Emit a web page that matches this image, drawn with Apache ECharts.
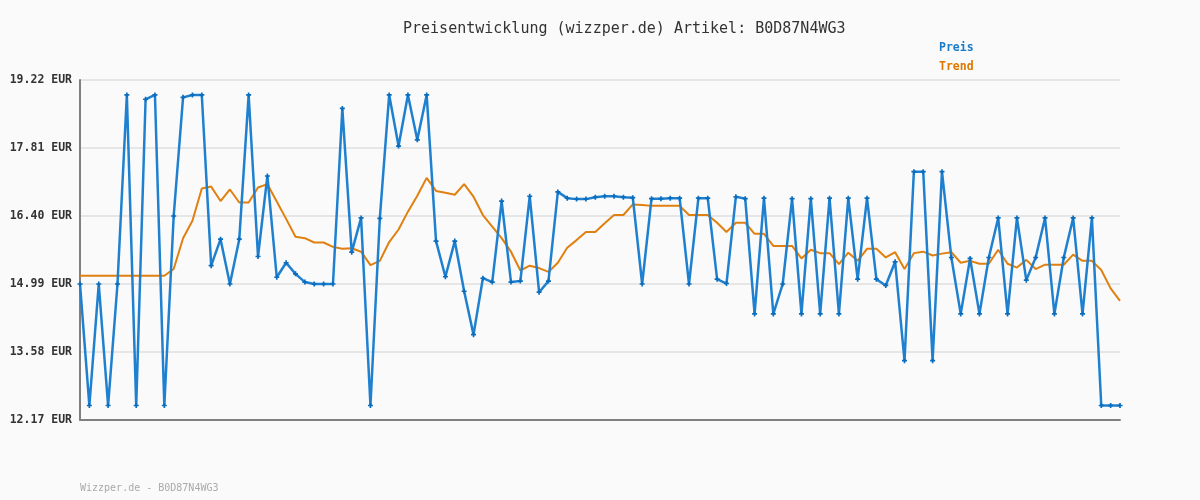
<!DOCTYPE html>
<html>
<head>
<meta charset="utf-8">
<script src="https://cdn.jsdelivr.net/npm/echarts@6/dist/echarts.min.js"></script>
<style>
html,body{margin:0;padding:0;background:#fafafa;}
#chart{width:1200px;height:500px;}
</style>
</head>
<body>
<div id="chart"></div>
<script>
const titleText = 'Preisentwicklung (wizzper.de) Artikel: B0D87N4WG3';
const footerText = 'Wizzper.de - B0D87N4WG3';
const yTicks = [12.17, 13.58, 14.99, 16.40, 17.81, 19.22];
const preis = [
  14.99, 12.47, 14.99, 12.47, 14.99, 18.91, 12.47, 18.82, 18.91, 12.47,
  16.40, 18.86, 18.91, 18.91, 15.37, 15.92, 14.99, 15.92, 18.91, 15.56,
  17.23, 15.13, 15.43, 15.20, 15.03, 14.99, 14.99, 14.99, 18.63, 15.65,
  16.36, 12.47, 16.35, 18.91, 17.85, 18.91, 17.98, 18.91, 15.88, 15.14,
  15.88, 14.84, 13.94, 15.11, 15.03, 16.71, 15.03, 15.05, 16.81, 14.82,
  15.05, 16.90, 16.77, 16.75, 16.75, 16.79, 16.81, 16.81, 16.79, 16.78,
  14.99, 16.76, 16.76, 16.77, 16.77, 14.99, 16.77, 16.77, 15.09, 15.00,
  16.80, 16.76, 14.37, 16.77, 14.37, 14.99, 16.76, 14.37, 16.76, 14.37,
  16.77, 14.37, 16.77, 15.09, 16.77, 15.09, 14.96, 15.45, 13.40, 17.32,
  17.32, 13.40, 17.32, 15.54, 14.37, 15.52, 14.37, 15.54, 16.36, 14.37,
  16.36, 15.07, 15.54, 16.36, 14.37, 15.54, 16.36, 14.37, 16.36, 12.47,
  12.47, 12.47
];
const trend = [
  15.16, 15.16, 15.16, 15.16, 15.16, 15.16, 15.16, 15.16, 15.16, 15.16,
  15.30, 15.94, 16.30, 16.97, 17.01, 16.71, 16.95, 16.68, 16.68, 16.99,
  17.06, 16.70, 16.34, 15.97, 15.94, 15.85, 15.85, 15.76, 15.72, 15.73,
  15.66, 15.38, 15.47, 15.86, 16.12, 16.49, 16.82, 17.19, 16.92, 16.88,
  16.84, 17.06, 16.80, 16.42, 16.18, 15.94, 15.66, 15.27, 15.37, 15.32,
  15.24, 15.43, 15.74, 15.90, 16.07, 16.07, 16.25, 16.42, 16.42, 16.64,
  16.63, 16.61, 16.61, 16.61, 16.61, 16.42, 16.42, 16.42, 16.26, 16.07,
  16.26, 16.26, 16.03, 16.03, 15.78, 15.78, 15.78, 15.52, 15.70, 15.63,
  15.63, 15.40, 15.64, 15.47, 15.72, 15.72, 15.54, 15.65, 15.30, 15.63,
  15.66, 15.58, 15.62, 15.65, 15.43, 15.47, 15.41, 15.41, 15.70, 15.41,
  15.33, 15.49, 15.30, 15.39, 15.39, 15.39, 15.60, 15.47, 15.47, 15.28,
  14.90, 14.64
];
const categories = preis.map((_, i) => String(i + 1));

const mono = 'DejaVu Sans Mono';
const chart = echarts.init(document.getElementById('chart'), null, {renderer: 'canvas'});
chart.setOption({
  backgroundColor: '#fafafa',
  animation: false,
  title: [{
    text: titleText,
    left: 398, top: 17,
    textStyle: {fontFamily: mono, fontSize: 15, fontWeight: 'normal', color: '#333'}
  }, {
    text: footerText,
    left: 75, top: 478,
    textStyle: {fontFamily: mono, fontSize: 10, fontWeight: 'normal', color: '#aaa'}
  }],
  legend: {
    orient: 'vertical',
    left: 934, top: 37,
    itemWidth: 0, itemHeight: 0, itemGap: 7,
    icon: 'none',
    textStyle: {fontFamily: mono, fontSize: 11.5, fontWeight: 'bold', padding: [0,0,0,-5]},
    data: [
      {name: 'Preis', textStyle: {color: '#1a7cc9'}},
      {name: 'Trend', textStyle: {color: '#dc7800'}}
    ]
  },
  grid: {left: 80, right: 80, top: 80, bottom: 80, containLabel: false},
  xAxis: {
    type: 'category',
    data: categories,
    boundaryGap: false,
    axisLine: {show: true, lineStyle: {color: '#808080', width: 2}},
    axisTick: {show: false},
    axisLabel: {show: false},
    splitLine: {show: false}
  },
  yAxis: {
    type: 'value',
    min: 12.17, max: 19.22,
    axisLine: {show: true, lineStyle: {color: '#808080', width: 2}},
    axisTick: {show: false, customValues: yTicks},
    axisLabel: {
      customValues: yTicks,
      formatter: v => v.toFixed(2) + ' EUR',
      fontFamily: mono, fontSize: 11.5, fontWeight: 'bold', color: '#333', margin: 8
    },
    splitLine: {show: true, lineStyle: {color: '#e6e6e6', width: 2}}
  },
  series: [{
    name: 'Preis',
    type: 'line',
    data: preis,
    color: '#1a7cc9',
    lineStyle: {color: '#1f80cf', width: 2.5},
    symbol: 'path://M2,0h2v2h2v2h-2v2h-2v-2h-2v-2h2z',
    symbolSize: 5,
    showSymbol: true,
    itemStyle: {color: '#0a6cbd'},
    z: 3
  }, {
    name: 'Trend',
    type: 'line',
    data: trend,
    color: '#dc7800',
    lineStyle: {color: '#e08010', width: 2},
    symbol: 'none',
    z: 2
  }]
});
</script>
</body>
</html>
